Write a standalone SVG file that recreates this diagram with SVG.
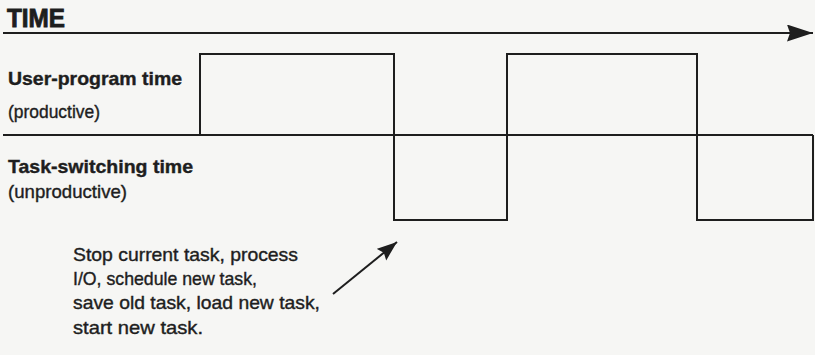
<svg xmlns="http://www.w3.org/2000/svg" width="815" height="355" viewBox="0 0 815 355">
  <style>
    .ln { fill: none; stroke: #1e1e1e; stroke-width: 2; stroke-linejoin: miter; }
    .t { font-family: "Liberation Sans Narrow", "Liberation Sans", "Arial Narrow", sans-serif; fill: #1e1e1e; }
    .r { stroke: #1e1e1e; stroke-width: 0.4; }
    .b { font-weight: bold; stroke: #1e1e1e; stroke-width: 0.4; }
    .h { stroke-width: 0.9; }
  </style>
  <defs>
    <marker id="bigHead" markerUnits="userSpaceOnUse" markerWidth="28" markerHeight="18" refX="26" refY="8.5" orient="auto">
      <path d="M0 0 L26 8.5 L0 17 L3 8.5 Z" fill="#1e1e1e"/>
    </marker>
    <marker id="smallHead" markerUnits="userSpaceOnUse" markerWidth="22" markerHeight="16" refX="20" refY="7.5" orient="auto">
      <path d="M0 0 L20 7.5 L0 15 L3 7.5 Z" fill="#1e1e1e"/>
    </marker>
  </defs>
  <rect width="815" height="355" fill="#f6f6f4"/>

  <g id="time-axis">
    <text class="t b h" x="7" y="27" font-size="26" textLength="58" lengthAdjust="spacingAndGlyphs">TIME</text>
    <line class="ln" x1="3" y1="33" x2="813" y2="33" stroke-width="2.5" marker-end="url(#bigHead)"/>
  </g>

  <g id="user-program-label">
    <text class="t b" x="8" y="85" font-size="19" textLength="174" lengthAdjust="spacingAndGlyphs">User-program time</text>
    <text class="t r" x="8" y="118" font-size="19" textLength="92" lengthAdjust="spacingAndGlyphs">(productive)</text>
  </g>

  <g id="task-switching-label">
    <text class="t b" x="8" y="173" font-size="19" textLength="185" lengthAdjust="spacingAndGlyphs">Task-switching time</text>
    <text class="t r" x="8" y="198" font-size="19" textLength="119" lengthAdjust="spacingAndGlyphs">(unproductive)</text>
  </g>

  <g id="connectors">
    <!-- dividing baseline between the two states -->
    <line class="ln" x1="3" y1="135" x2="813" y2="135"/>
    <!-- square wave: high = user program, low = task switching -->
    <path class="ln" d="M200 135 V54 H394 V220 H507 V54 H697 V220 H813 V135"/>
    <!-- pointer from the note to the switch interval -->
    <line class="ln" x1="333" y1="294" x2="397" y2="242" stroke-width="2" marker-end="url(#smallHead)"/>
  </g>

  <g id="switch-note">
    <text class="t r" x="73" y="261" font-size="19" textLength="225" lengthAdjust="spacingAndGlyphs">Stop current task, process</text>
    <text class="t r" x="73" y="285" font-size="19" textLength="184" lengthAdjust="spacingAndGlyphs">I/O, schedule new task,</text>
    <text class="t r" x="73" y="309" font-size="19" textLength="247" lengthAdjust="spacingAndGlyphs">save old task, load new task,</text>
    <text class="t r" x="73" y="334" font-size="19" textLength="130" lengthAdjust="spacingAndGlyphs">start new task.</text>
  </g>
</svg>
